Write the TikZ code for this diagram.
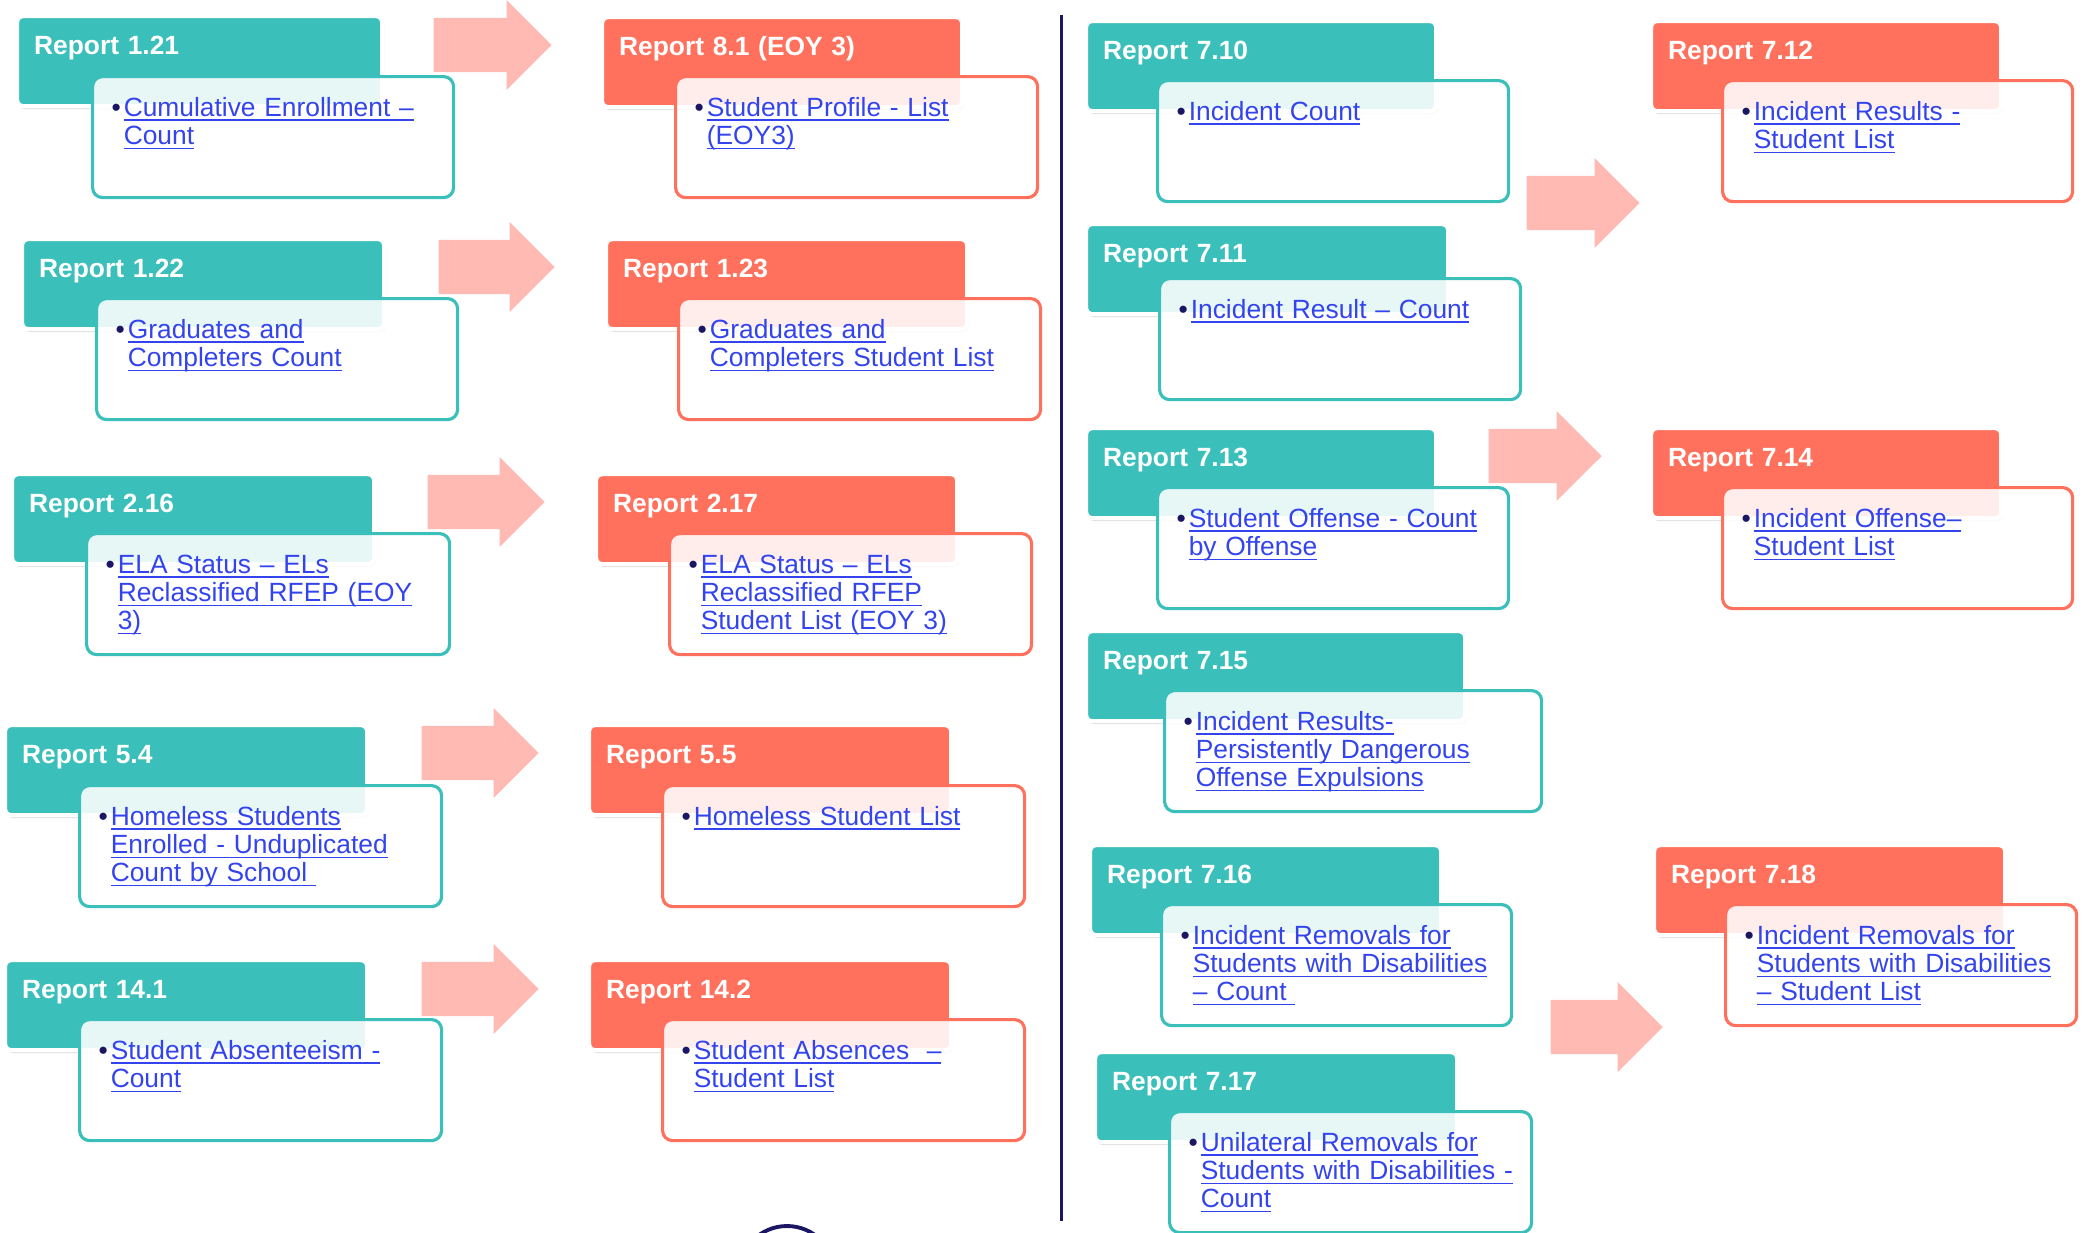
\documentclass[tikz,border=0pt]{standalone}
\usepackage{fontspec}
\setmainfont{Liberation Sans}
\usetikzlibrary{shapes.arrows,shadows}
\definecolor{tealc}{RGB}{59,191,186}
\definecolor{coralc}{RGB}{255,113,92}
\definecolor{arrowc}{RGB}{255,186,180}
\definecolor{linkc}{RGB}{51,68,238}
\definecolor{navyc}{RGB}{27,22,100}
\newcommand{\lnk}[1]{\setbox0\hbox{#1}\rlap{\rule[-1.3pt]{\wd0}{0.5pt}}\box0}
\newcommand{\itm}[1]{\begin{tabular}[t]{@{}l@{\hspace{0.03cm}}l@{}}\textcolor{navyc}{\textbullet}&#1\end{tabular}}
\begin{document}
\begin{tikzpicture}[x=1cm,y=-1cm,
    hdr/.style={anchor=north west,rounded corners=0.06cm,draw=white,line width=1.2pt,inner xsep=0.17cm,inner ysep=0,
      text height=0.38cm,text depth=0.52cm,align=left,text=white,font=\fontsize{7.5}{8}\selectfont\bfseries,
      drop shadow={shadow xshift=0.02cm,shadow yshift=-0.03cm,opacity=0.25}},
    thdr/.style={hdr,fill=tealc,text width=#1},thdr/.default=3.28cm,
    chdr/.style={hdr,fill=coralc,text width=#1},chdr/.default=3.28cm,
    lst/.style={anchor=north west,rounded corners=0.1cm,line width=0.9pt,fill=white,fill opacity=0.88,text opacity=1,
      inner xsep=0.19cm,inner ysep=0,text height=0.40cm,text depth=0.81cm,align=left,text=linkc,
      font=\fontsize{7.5}{8}\selectfont},
    tlst/.style={lst,draw=tealc,text width=#1},tlst/.default=3.24cm,
    clst/.style={lst,draw=coralc,text width=#1},clst/.default=3.24cm,
    blk/.style={single arrow,fill=arrowc,anchor=tail,inner xsep=0,inner ysep=0.265cm,minimum width=0.89cm,single arrow head extend=0.18cm}]
    \path[use as bounding box,clip] (0,0) rectangle (20.88,12.32);
    % arrows
    \node[blk,minimum height=1.18cm] (a1) at (4.33,0.45) {};
    \node[blk,minimum height=1.16cm] (a2) at (4.38,2.67) {};
    \node[blk,minimum height=1.17cm] (a3) at (4.27,5.02) {};
    \node[blk,minimum height=1.17cm] (a4) at (4.21,7.53) {};
    \node[blk,minimum height=1.17cm] (a5) at (4.21,9.89) {};
    \node[blk,minimum height=1.13cm] (a6) at (15.26,2.03) {};
    \node[blk,minimum height=1.13cm] (a7) at (14.88,4.56) {};
    \node[blk,minimum height=1.12cm] (a8) at (15.50,10.27) {};
    % left half
    \node[thdr=3.31cm] (h121) at (0.15,0.14) {Report 1.21};
    \node[tlst=3.23cm] (b121) at (0.91,0.75) {\itm{\lnk{Cumulative Enrollment –}\\&\lnk{Count}}};
    \node[chdr=3.26cm] (h81) at (6.00,0.15) {Report 8.1 (EOY 3)};
    \node[clst] (b81) at (6.74,0.75) {\itm{\lnk{Student Profile - List}\\&\lnk{(EOY3)}}};
    \node[thdr] (h122) at (0.20,2.37) {Report 1.22};
    \node[tlst=3.23cm] (b122) at (0.95,2.97) {\itm{\lnk{Graduates and}\\&\lnk{Completers Count}}};
    \node[chdr=3.27cm] (h123) at (6.04,2.37) {Report 1.23};
    \node[clst] (b123) at (6.77,2.97) {\itm{\lnk{Graduates and}\\&\lnk{Completers Student List}}};
    \node[thdr] (h216) at (0.10,4.72) {Report 2.16};
    \node[tlst=3.25cm] (b216) at (0.85,5.32) {\itm{\lnk{ELA Status – ELs}\\&\lnk{Reclassified RFEP (EOY}\\&\lnk{3)}}};
    \node[chdr=3.27cm] (h217) at (5.94,4.72) {Report 2.17};
    \node[clst] (b217) at (6.68,5.32) {\itm{\lnk{ELA Status – ELs}\\&\lnk{Reclassified RFEP}\\&\lnk{Student List (EOY 3)}}};
    \node[thdr] (h54) at (0.03,7.23) {Report 5.4};
    \node[tlst] (b54) at (0.78,7.84) {\itm{\lnk{Homeless Students}\\&\lnk{Enrolled - Unduplicated}\\&\lnk{Count by School\ }}};
    \node[chdr] (h55) at (5.87,7.23) {Report 5.5};
    \node[clst] (b55) at (6.61,7.84) {\itm{\lnk{Homeless Student List}}};
    \node[thdr] (h141) at (0.03,9.58) {Report 14.1};
    \node[tlst] (b141) at (0.78,10.18) {\itm{\lnk{Student Absenteeism -}\\&\lnk{Count}}};
    \node[chdr] (h142) at (5.87,9.58) {Report 14.2};
    \node[clst] (b142) at (6.61,10.18) {\itm{\lnk{Student Absences\ \ –}\\&\lnk{Student List}}};
    % divider
    \coordinate (vtop) at (10.615,0.15);
    \coordinate (vbot) at (10.615,12.21);
    \draw[navyc,line width=1pt] (vtop) -- (vbot);
    \draw[navyc,line width=1.1pt] (7.87,12.74) circle (0.48);
    % right half
    \node[thdr=3.16cm] (h710) at (10.84,0.19) {Report 7.10};
    \node[tlst=3.13cm] (b710) at (11.56,0.79) {\itm{\lnk{Incident Count}}};
    \node[chdr=3.16cm] (h712) at (16.49,0.19) {Report 7.12};
    \node[clst=3.12cm] (b712) at (17.21,0.79) {\itm{\lnk{Incident Results -}\\&\lnk{Student List}}};
    \node[thdr] (h711) at (10.84,2.22) {Report 7.11};
    \node[tlst=3.23cm] (b711) at (11.58,2.77) {\itm{\lnk{Incident Result – Count}}};
    \node[thdr=3.16cm] (h713) at (10.84,4.26) {Report 7.13};
    \node[tlst=3.13cm] (b713) at (11.56,4.86) {\itm{\lnk{Student Offense - Count}\\&\lnk{by Offense}}};
    \node[chdr=3.16cm] (h714) at (16.49,4.26) {Report 7.14};
    \node[clst=3.12cm] (b714) at (17.21,4.86) {\itm{\lnk{Incident Offense–}\\&\lnk{Student List}}};
    \node[thdr=3.45cm] (h715) at (10.84,6.29) {Report 7.15};
    \node[tlst=3.39cm] (b715) at (11.63,6.89) {\itm{\lnk{Incident Results-}\\&\lnk{Persistently Dangerous}\\&\lnk{Offense Expulsions}}};
    \node[thdr=3.17cm] (h716) at (10.88,8.43) {Report 7.16};
    \node[tlst=3.12cm] (b716) at (11.60,9.03) {\itm{\lnk{Incident Removals for}\\&\lnk{Students with Disabilities}\\&\lnk{– Count\ }}};
    \node[chdr=3.17cm] (h718) at (16.52,8.43) {Report 7.18};
    \node[clst=3.13cm] (b718) at (17.24,9.03) {\itm{\lnk{Incident Removals for}\\&\lnk{Students with Disabilities}\\&\lnk{– Student List}}};
    \node[thdr] (h717) at (10.93,10.50) {Report 7.17};
    \node[tlst] (b717) at (11.68,11.10) {\itm{\lnk{Unilateral Removals for}\\&\lnk{Students with Disabilities -}\\&\lnk{Count}}};
\end{tikzpicture}
\end{document}
